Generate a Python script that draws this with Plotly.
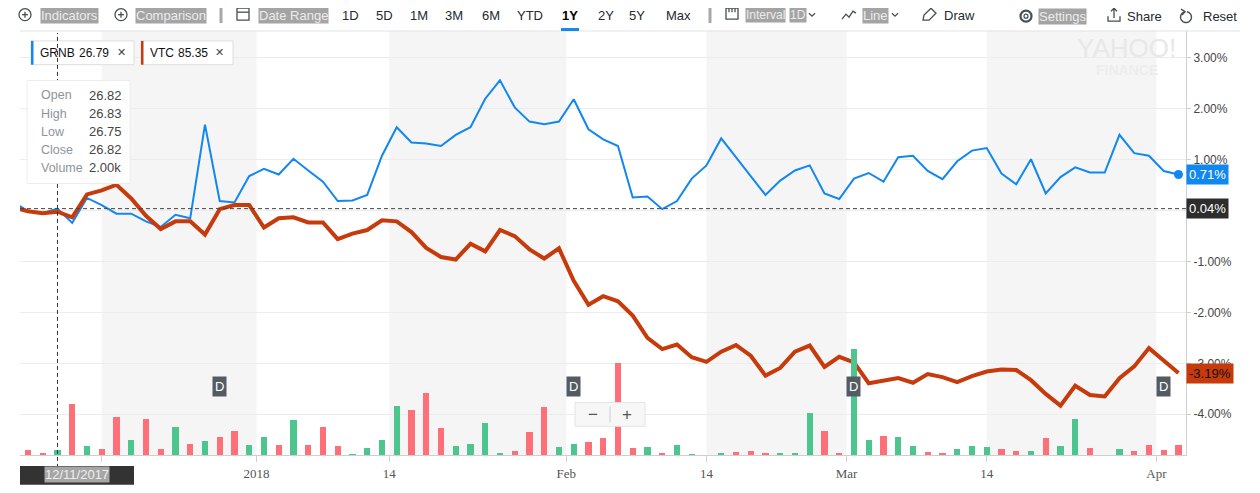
import math
import plotly.graph_objects as go

# trading days shown (Dec 6 sits just off the left edge)
dates = [
    "2017-12-06", "2017-12-07", "2017-12-08", "2017-12-11", "2017-12-12", "2017-12-13",
    "2017-12-14", "2017-12-15", "2017-12-18", "2017-12-19", "2017-12-20", "2017-12-21",
    "2017-12-22", "2017-12-26", "2017-12-27", "2017-12-28", "2017-12-29",
    "2018-01-02", "2018-01-03", "2018-01-04", "2018-01-05", "2018-01-08", "2018-01-09",
    "2018-01-10", "2018-01-11", "2018-01-12", "2018-01-16", "2018-01-17", "2018-01-18",
    "2018-01-19", "2018-01-22", "2018-01-23", "2018-01-24", "2018-01-25", "2018-01-26",
    "2018-01-29", "2018-01-30", "2018-01-31",
    "2018-02-01", "2018-02-02", "2018-02-05", "2018-02-06", "2018-02-07", "2018-02-08",
    "2018-02-09", "2018-02-12", "2018-02-13", "2018-02-14", "2018-02-15", "2018-02-16",
    "2018-02-20", "2018-02-21", "2018-02-22", "2018-02-23", "2018-02-26", "2018-02-27",
    "2018-02-28",
    "2018-03-01", "2018-03-02", "2018-03-05", "2018-03-06", "2018-03-07", "2018-03-08",
    "2018-03-09", "2018-03-12", "2018-03-13", "2018-03-14", "2018-03-15", "2018-03-16",
    "2018-03-19", "2018-03-20", "2018-03-21", "2018-03-22", "2018-03-23", "2018-03-26",
    "2018-03-27", "2018-03-28", "2018-03-29",
    "2018-04-02", "2018-04-03",
]

# % change
grnb = [
    0.17, -0.01, -0.05, 0.04, -0.24, 0.25, 0.11, -0.06, -0.06, -0.21, -0.32, -0.08,
    -0.15, 1.69, 0.19, 0.16, 0.68, 0.82, 0.71, 1.02, 0.79, 0.57, 0.19, 0.20, 0.31,
    1.08, 1.64, 1.34, 1.32, 1.27, 1.49, 1.64, 2.20, 2.56, 2.03, 1.75, 1.70, 1.75,
    2.19, 1.60, 1.40, 1.27, 0.26, 0.28, 0.03, 0.19, 0.63, 0.89, 1.42, 1.06, 0.68,
    0.31, 0.59, 0.79, 0.89, 0.34, 0.23, 0.63, 0.74, 0.57, 1.05, 1.08, 0.78, 0.62,
    0.97, 1.18, 1.23, 0.73, 0.52, 1.01, 0.34, 0.66, 0.85, 0.75, 0.75, 1.49, 1.13,
    1.08, 0.78, 0.71,
]
vtc = [
    0.06, -0.01, -0.05, -0.02, -0.13, 0.32, 0.40, 0.51, 0.24, -0.10, -0.36, -0.21,
    -0.21, -0.47, 0.03, 0.11, 0.11, -0.33, -0.15, -0.13, -0.23, -0.23, -0.56, -0.45,
    -0.38, -0.19, -0.21, -0.42, -0.73, -0.91, -0.96, -0.65, -0.80, -0.38, -0.50,
    -0.76, -0.94, -0.74, -1.38, -1.85, -1.68, -1.78, -2.06, -2.50, -2.72, -2.63,
    -2.88, -2.97, -2.77, -2.64, -2.85, -3.24, -3.09, -2.77, -2.65, -3.07, -2.87,
    -2.98, -3.39, -3.33, -3.29, -3.38, -3.21, -3.27, -3.37, -3.25, -3.16, -3.12,
    -3.13, -3.33, -3.60, -3.83, -3.44, -3.62, -3.65, -3.29, -3.06, -2.70, -2.95,
    -3.19,
]
# GRNB volume, thousands
volume_k = [
    1.2, 2.0, 0.8, 2.0, 20.5, 3.7, 2.4, 15.3, 6.0, 14.5, 2.4, 11.3, 4.4, 5.6, 7.3,
    9.7, 4.0, 7.3, 4.0, 14.1, 4.0, 11.3, 3.7, 0.3, 2.8, 6.0, 19.7, 18.1, 24.9, 10.9,
    3.7, 4.4, 12.9, 0.5, 1.6, 9.3, 19.3, 3.3, 4.5, 5.3, 6.9, 37.3, 2.9, 3.3, 0.5,
    4.0, 0.3, 0.0, 0.8, 1.2, 1.7, 0.9, 0.8, 0.8, 16.8, 9.6, 0.8, 42.7, 6.0, 7.7, 7.3,
    3.7, 1.2, 0.5, 2.4, 3.7, 3.3, 2.4, 1.6, 1.6, 6.9, 3.7, 14.5, 2.9, 0.0, 2.4, 1.6,
    4.0, 2.1, 4.0,
]
day_dir = (
    "d d d u d u d d u d d u d u d d u u d u d d d u u u u d d d u u u u d d d u u d "
    "d d d u d u u u u d d d u u u d d u u d u u d d u u u d d u d u u d u u d d d d"
).split()

dividend_dates = ["2017-12-27", "2018-02-01", "2018-03-01", "2018-04-02"]
hover_date = "2017-12-11"
tip_labels = ["Open", "High", "Low", "Close", "Volume"]
tip_values = ["26.82", "26.83", "26.75", "26.82", "2.00k"]
grnb_last, vtc_last = "26.79", "85.35"

tick_pos = [6, 16.5, 25.5, 37.5, 47, 56.5, 66, 77.5]
tick_text = ["", "2018", "14", "Feb", "14", "Mar", "14", "Apr"]   # Dec 14 sits under the date badge
pct_ticks = [-4, -3, -2, -1, 0, 1, 2, 3]

BLUE = "#1187f0"
ORANGE = "#c63a0b"
GREEN = "#4dc58e"
RED = "#ff6f77"
ICON = "#464e56"
SANS = "Liberation Sans"

# page body adds an 8px margin, so the figure is laid out in screen pixels minus 8
OFF = 8
W, H = 1260 - OFF, 493 - OFF
PLOT_L, PLOT_R, PLOT_T, PLOT_B = 20, 1186, 31, 459   # screen pixels
PW, PH = PLOT_R - PLOT_L, PLOT_B - PLOT_T


def px(x):
    return (x - PLOT_L) / PW


def py(y):
    return (PLOT_B - y) / PH


x = list(range(len(dates)))
hi = dates.index(hover_date)

fig = go.Figure()
fig.add_trace(go.Bar(
    x=x, y=volume_k, yaxis="y2", width=0.42,
    marker=dict(color=[GREEN if d == "u" else RED for d in day_dir], line_width=0),
))
fig.add_trace(go.Scatter(x=x, y=grnb, mode="lines", line=dict(color=BLUE, width=2)))
fig.add_trace(go.Scatter(x=x, y=vtc, mode="lines", line=dict(color=ORANGE, width=4)))
fig.add_trace(go.Scatter(x=[x[-1]], y=[grnb[-1]], mode="markers",
                         marker=dict(color=BLUE, size=9)))

shapes = []
# shaded half-month bands
for a, b in [(6, 16.5), (25.5, 37.5), (47, 56.5), (66, 77.5)]:
    shapes.append(dict(type="rect", xref="x", yref="paper", x0=a, x1=b, y0=0, y1=1,
                       fillcolor="#f5f5f5", line_width=0, layer="below"))

# toolbar underline + selected range marker
shapes.append(dict(type="line", xref="paper", yref="paper", x0=px(20), x1=px(1240),
                   y0=py(31), y1=py(31), line=dict(color="#e2e2e6", width=1)))
shapes.append(dict(type="rect", xref="paper", yref="paper", x0=px(561), x1=px(579),
                   y0=py(28), y1=py(31), fillcolor="#1187f0", line_width=0))
for sx in (221, 710):
    shapes.append(dict(type="line", xref="paper", yref="paper", x0=px(sx), x1=px(sx),
                       y0=py(6), y1=py(23), line=dict(color="#a8a8a8", width=3)))


def path(points, close=False, color=ICON, width=1.3):
    d = "M " + " L ".join(f"{px(a):.5f},{py(b):.5f}" for a, b in points)
    if close:
        d += " Z"
    return dict(type="path", xref="paper", yref="paper", path=d,
                line=dict(color=color, width=width))


def circle(cx, cy, r, color=ICON, width=1.3):
    return dict(type="circle", xref="paper", yref="paper", x0=px(cx - r), x1=px(cx + r),
                y0=py(cy + r), y1=py(cy - r), line=dict(color=color, width=width))


# small toolbar icons
for cx in (25, 121):
    shapes.append(circle(cx, 14.5, 6))
    shapes.append(path([(cx - 3, 14.5), (cx + 3, 14.5)]))
    shapes.append(path([(cx, 11.5), (cx, 17.5)]))
shapes.append(path([(237, 8), (249, 8), (249, 20), (237, 20)], close=True))
shapes.append(path([(237, 12), (249, 12)]))
shapes.append(path([(726, 8), (738, 8), (738, 19), (726, 19)], close=True))
shapes.append(path([(729, 8), (729, 12)]))
shapes.append(path([(732, 8), (732, 12)]))
shapes.append(path([(735, 8), (735, 12)]))
for cx in (812, 895):
    shapes.append(path([(cx - 3, 13), (cx, 16), (cx + 3, 13)]))
shapes.append(path([(842, 19), (846, 14), (849, 17), (853, 11), (856, 13)]))
shapes.append(path([(923, 20), (924, 15), (931, 8), (936, 13), (929, 20)], close=True))
# gear
shapes.append(circle(1026, 16, 5.5, width=2.2))
shapes.append(circle(1026, 16, 2, width=1.2))
# share
shapes.append(path([(1108, 16), (1108, 21), (1120, 21), (1120, 16)]))
shapes.append(path([(1114, 18), (1114, 8)]))
shapes.append(path([(1111, 11), (1114, 8), (1117, 11)]))
# reset
arc = [(1186 + 5.5 * math.cos(math.radians(a)), 17 - 5.5 * math.sin(math.radians(a)))
       for a in range(100, 441, 20)]
shapes.append(path(arc, width=1.4))
shapes.append(path([(1181, 9), (1185, 11.5), (1182, 15)], width=1.4))

# legend chips
for x0, x1, col in [(31, 134, BLUE), (141, 233, ORANGE)]:
    shapes.append(dict(type="rect", xref="paper", yref="paper", x0=px(x0), x1=px(x1),
                       y0=py(65), y1=py(41), fillcolor="white",
                       line=dict(color="#dedede", width=1)))
    shapes.append(dict(type="rect", xref="paper", yref="paper", x0=px(x0), x1=px(x0 + 2.5),
                       y0=py(65), y1=py(41), fillcolor=col, line_width=0))

# crosshair
shapes.append(dict(type="line", xref="x", yref="paper", x0=hi, x1=hi, y0=py(472), y1=py(33),
                   line=dict(color="#333", width=1, dash="4px,3px")))
shapes.append(dict(type="line", xref="paper", yref="y", x0=0, x1=1, y0=grnb[hi], y1=grnb[hi],
                   line=dict(color="#444", width=1, dash="4px,3px")))

# tooltip card
shapes.append(dict(type="rect", xref="paper", yref="paper", x0=px(27), x1=px(130),
                   y0=py(185), y1=py(81), fillcolor="white",
                   line=dict(color="#ececec", width=1)))
# date badge under crosshair
shapes.append(dict(type="rect", xref="paper", yref="paper", x0=px(20), x1=px(134),
                   y0=py(489), y1=py(470), fillcolor="#333333", line_width=0))
# zoom control
shapes.append(dict(type="rect", xref="paper", yref="paper", x0=px(575), x1=px(645),
                   y0=py(430), y1=py(406), fillcolor="#f7f7f7",
                   line=dict(color="#e4e4e4", width=1)))
shapes.append(dict(type="line", xref="paper", yref="paper", x0=px(610), x1=px(610),
                   y0=py(426), y1=py(410), line=dict(color="#cccccc", width=1)))

ann = []


def text(xp, yp, s, size=13, color="#232a31", anchor="left", bg=None, family=SANS, **kw):
    d = dict(xref="paper", yref="paper", x=px(xp), y=py(yp), text=s, showarrow=False,
             xanchor=anchor, yanchor="middle", font=dict(family=family, size=size, color=color),
             borderpad=0, **kw)
    if bg:
        d["bgcolor"] = bg
    ann.append(d)


HL_BG, HL_FG = "#a4a4a4", "#ececec"
# toolbar
text(40, 15, "Indicators", bg=HL_BG, color=HL_FG)
text(135, 15, "Comparison", bg=HL_BG, color=HL_FG)
text(258, 15, "Date Range", bg=HL_BG, color=HL_FG)
for s, cx in zip(["1D", "5D", "1M", "3M", "6M", "YTD", "1Y", "2Y", "5Y", "Max"],
                 [350, 384, 419, 454, 491, 530, 570, 606, 637, 678]):
    text(cx, 15, f"<b>{s}</b>" if s == "1Y" else s, anchor="center",
         color="#000" if s == "1Y" else "#232a31")
text(745, 15, "Interval", size=12, bg=HL_BG, color=HL_FG)
text(789, 15, "1D", size=12, bg=HL_BG, color=HL_FG)
text(862, 15, "Line", bg=HL_BG, color=HL_FG)
text(943, 15, "Draw")
text(1038, 16, "Settings", bg=HL_BG, color=HL_FG)
text(1126, 16, "Share")
text(1202, 16, "Reset")

# watermark
text(1126, 48, "YAHOO!", size=26, color="#e8e8e8", anchor="center")
text(1127, 70, "<b>FINANCE</b>", size=14, color="#ededed", anchor="center")

# legend chips
text(39, 53, "GRNB", size=12, color="#111")
text(78, 53, grnb_last, size=12, color="#111")
text(121, 53, "✕", size=11, color="#444", anchor="center", family="DejaVu Sans")
text(149, 53, "VTC", size=12, color="#111")
text(177, 53, vtc_last, size=12, color="#111")
text(219, 53, "✕", size=11, color="#444", anchor="center", family="DejaVu Sans")

# tooltip rows
for k, (lab, val) in enumerate(zip(tip_labels, tip_values)):
    yy = 96 + k * 18.3
    text(40, yy, lab, size=12.5, color="#8f949a")
    text(88, yy, val, size=13, color="#464646")

# date badge
text(77, 479, "12/11/2017", bg="#a6a6a6", color="#eeeeee", anchor="center")

# zoom control
text(593, 418, "−", size=17, color="#555", anchor="center")
text(627, 418, "+", size=17, color="#555", anchor="center")

# dividend flags
for d in dividend_dates:
    ann.append(dict(xref="x", yref="paper", x=dates.index(d), y=py(390), text="D",
                    showarrow=False, xanchor="center", yanchor="middle",
                    font=dict(family=SANS, size=13, color="white"),
                    bgcolor="#545b63", borderpad=2))

# right-axis value tags
for val, bg, fg in [(grnb[-1], BLUE, "white"), (grnb[hi], "#2d2d2d", "white"),
                    (vtc[-1], ORANGE, "#111")]:
    ann.append(dict(xref="paper", yref="y", x=1.0, y=val, text=f"{val:.2f}%",
                    showarrow=False, xanchor="left", yanchor="middle",
                    font=dict(family=SANS, size=13, color=fg),
                    bgcolor=bg, borderpad=2))

fig.update_layout(
    width=W, height=H,
    margin=dict(l=PLOT_L - OFF, r=W - (PLOT_R - OFF), t=PLOT_T - OFF, b=H - (PLOT_B - OFF)),
    paper_bgcolor="white", plot_bgcolor="white",
    showlegend=False, hovermode=False, bargap=0,
    shapes=shapes, annotations=ann,
    xaxis=dict(range=[0.46, 79.51], tickmode="array", tickvals=tick_pos, ticktext=tick_text,
               showgrid=False, zeroline=False, showline=True, linecolor="#cfcfcf",
               ticks="outside", ticklen=6, tickcolor="#cfcfcf",
               tickfont=dict(family="Liberation Serif", size=13, color="#555")),
    yaxis=dict(side="right", range=[-4.80, 3.53], tickmode="array", tickvals=pct_ticks,
               ticktext=["" if v == 0 else f"{v:.2f}%" for v in pct_ticks],
               showgrid=True, gridcolor="#ececec",
               zeroline=False, showline=True, linecolor="#cfcfcf", ticks="outside",
               ticklen=4, tickcolor="#cfcfcf",
               tickfont=dict(family=SANS, size=12, color="#464646")),
    yaxis2=dict(overlaying="y", range=[0, 171], visible=False),
)

fig.write_html("out.html")
